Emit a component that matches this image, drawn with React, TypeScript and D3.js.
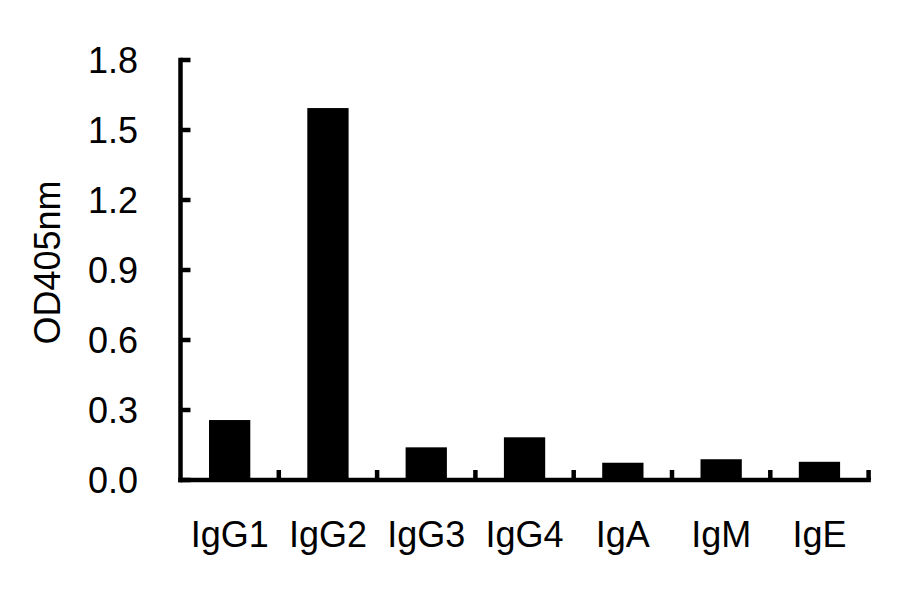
import React from "react";
import * as d3 from "d3";

const categories = ["IgG1", "IgG2", "IgG3", "IgG4", "IgA", "IgM", "IgE"];
const values = [0.257, 1.594, 0.14, 0.183, 0.074, 0.089, 0.078];
const yTicks = [0, 0.3, 0.6, 0.9, 1.2, 1.5, 1.8];
const yTitle = "OD405nm";

const W = 900;
const H = 594;
const x0 = 180.5;
const x1 = 868.6;
const yBase = 480;
const yTop = 60;
const FONT = "'Liberation Sans', Arial, sans-serif";
const FS = 36;
const SW = 4.5;

export default function App() {
  const x = d3
    .scaleBand<string>()
    .domain(categories)
    .range([x0, x1])
    .paddingInner(0.58)
    .paddingOuter(0.29);
  const y = d3.scaleLinear().domain([0, 1.8]).range([yBase, yTop]);
  const step = x.step();
  const boundaries = categories.map((_, i) => x0 + (i + 1) * step);

  return (
    <svg
      width={W}
      height={H}
      style={{ position: "absolute", left: 0, top: 0, background: "#fff" }}
    >
      <rect x={0} y={0} width={W} height={H} fill="#fff" />
      {categories.map((c, i) => (
        <rect
          key={c}
          x={x(c)}
          y={y(values[i])}
          width={x.bandwidth()}
          height={yBase - y(values[i])}
          fill="#000"
        />
      ))}
      {/* y axis */}
      <line x1={x0} x2={x0} y1={yBase + SW / 2} y2={yTop - SW / 2} stroke="#000" strokeWidth={SW} />
      {yTicks.map((t) => (
        <g key={t}>
          <line x1={x0} x2={x0 + 10} y1={y(t)} y2={y(t)} stroke="#000" strokeWidth={SW} />
          <text
            x={138}
            y={y(t)}
            dy="0.36em"
            textAnchor="end"
            fontFamily={FONT}
            fontSize={FS}
            fill="#000"
          >
            {t.toFixed(1)}
          </text>
        </g>
      ))}
      {/* x axis */}
      <line x1={x0 - SW / 2} x2={x1 + SW / 2} y1={yBase} y2={yBase} stroke="#000" strokeWidth={SW} />
      {boundaries.map((b, i) => (
        <line key={i} x1={b} x2={b} y1={yBase} y2={yBase - 10} stroke="#000" strokeWidth={SW} />
      ))}
      {categories.map((c) => (
        <text
          key={c}
          x={(x(c) as number) + x.bandwidth() / 2}
          y={547}
          textAnchor="middle"
          fontFamily={FONT}
          fontSize={FS}
          fill="#000"
        >
          {c}
        </text>
      ))}
      <text
        transform={`translate(60,262.5) rotate(-90)`}
        textAnchor="middle"
        fontFamily={FONT}
        fontSize={FS}
        fill="#000"
      >
        {yTitle}
      </text>
    </svg>
  );
}
